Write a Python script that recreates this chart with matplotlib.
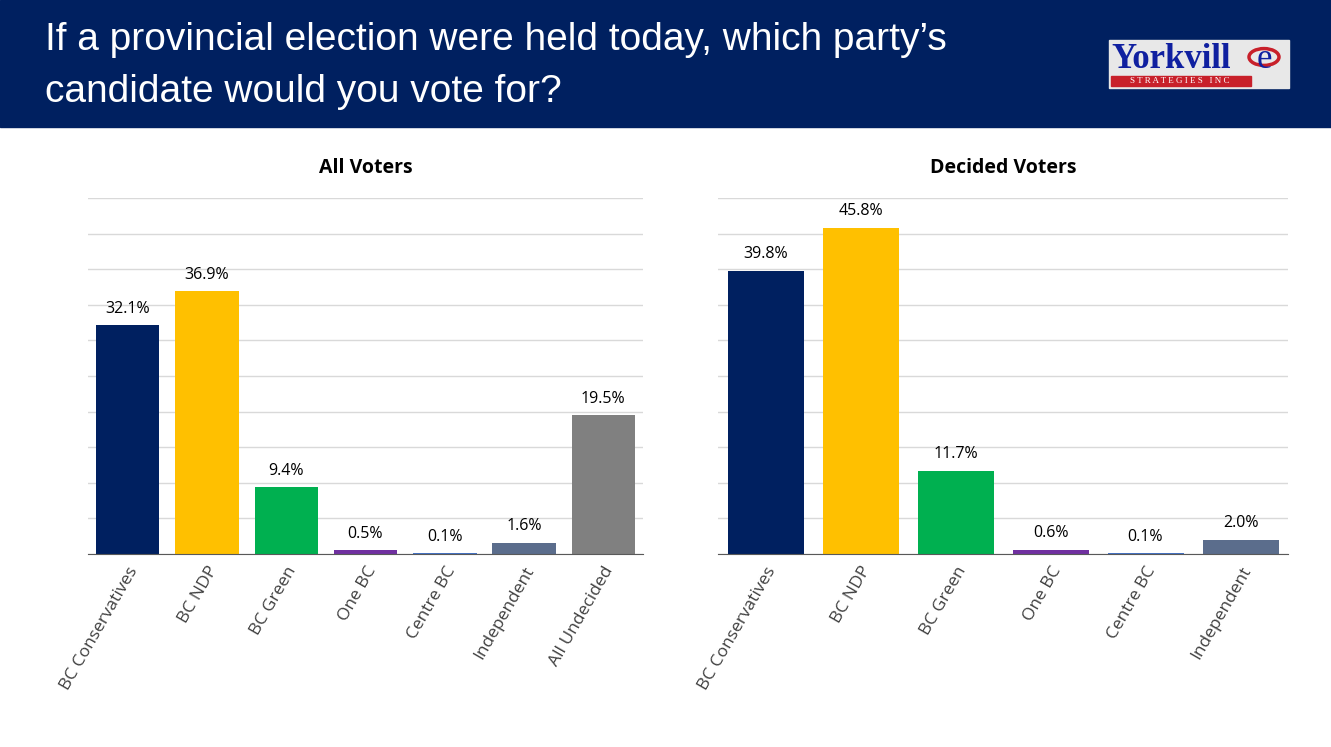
import matplotlib.pyplot as plt
from matplotlib.patches import Rectangle, Circle

# data
all_labels = ['BC Conservatives', 'BC NDP', 'BC Green', 'One BC', 'Centre BC', 'Independent', 'All Undecided']
all_values = [32.1, 36.9, 9.4, 0.5, 0.1, 1.6, 19.5]
dec_labels = ['BC Conservatives', 'BC NDP', 'BC Green', 'One BC', 'Centre BC', 'Independent']
dec_values = [39.8, 45.8, 11.7, 0.6, 0.1, 2.0]
colors = ['#002060', '#FFC000', '#00B050', '#7030A0', '#4472C4', '#5B6D8C', '#808080']

W, H = 1331, 747
fig = plt.figure(figsize=(W / 100, H / 100), dpi=100)
plt.rcParams['font.family'] = ['Open Sans', 'DejaVu Sans']

# header band
fig.patches.append(Rectangle((0, 1 - 127 / H), 1, 127 / H, transform=fig.transFigure,
                             color='#002060', zorder=0))
fig.text(45 / W, 1 - 40 / H, 'If a provincial election were held today, which party\u2019s',
         color='white', fontsize=28, family='Liberation Sans', va='center')
fig.text(45 / W, 1 - 92 / H, 'candidate would you vote for?',
         color='white', fontsize=28, family='Liberation Sans', va='center')

# logo
fig.patches.append(Rectangle((1109 / W, 1 - 88 / H), 180 / W, 48 / H, transform=fig.transFigure,
                             color='#E8E8E8', zorder=1))
fig.patches.append(Rectangle((1111 / W, 1 - 86 / H), 140 / W, 10 / H, transform=fig.transFigure,
                             color='#C8202A', zorder=2))
fig.text(1111 / W, 1 - 60 / H, 'Yorkvill', color='#1020A0', fontsize=25, fontweight='bold',
         family='Liberation Serif', va='center', zorder=3)
fig.text(1264 / W, 1 - 59 / H, 'e', color='#1020A0', fontsize=25,
         family='Liberation Serif', va='center', ha='center', zorder=3)
fig.patches.append(Circle((1264 / W, 1 - 57 / H), 15 / W, transform=fig.transFigure,
                          fill=False, ec='#C8202A', lw=2.5, zorder=3))
fig.text(1180 / W, 1 - 81 / H, 'S T R A T E G I E S   I N C', color='white', fontsize=6.5,
         family='Liberation Serif', va='center', ha='center', zorder=3)


def draw(ax, labels, values, title):
    x = range(len(labels))
    ax.bar(x, values, width=0.8, color=colors[:len(labels)], zorder=2)
    for i, v in zip(x, values):
        ax.text(i, v + 1.2, f'{v:.1f}%', ha='center', va='bottom', fontsize=11.5)
    ax.set_ylim(0, 50)
    ax.set_xlim(-0.5, len(labels) - 0.5)
    ax.set_yticks(range(0, 51, 5))
    ax.set_yticklabels([])
    ax.tick_params(left=False, bottom=False)
    ax.grid(axis='y', color='#D9D9D9', lw=1, zorder=0)
    for s in ['top', 'right', 'left']:
        ax.spines[s].set_visible(False)
    ax.spines['bottom'].set_color('#595959')
    ax.set_xticks(list(x))
    ax.set_xticklabels(labels, rotation=60, ha='right', rotation_mode='anchor',
                       fontsize=12.5, color='#404040', family='Open Sans')
    ax.set_title(title, fontsize=14, fontweight='bold', pad=18)


ax1 = fig.add_axes([88 / W, 1 - 554 / H, 555 / W, 356 / H])
draw(ax1, all_labels, all_values, 'All Voters')
ax2 = fig.add_axes([718 / W, 1 - 554 / H, 570 / W, 356 / H])
draw(ax2, dec_labels, dec_values, 'Decided Voters')

fig.savefig('out.png', dpi=100)
